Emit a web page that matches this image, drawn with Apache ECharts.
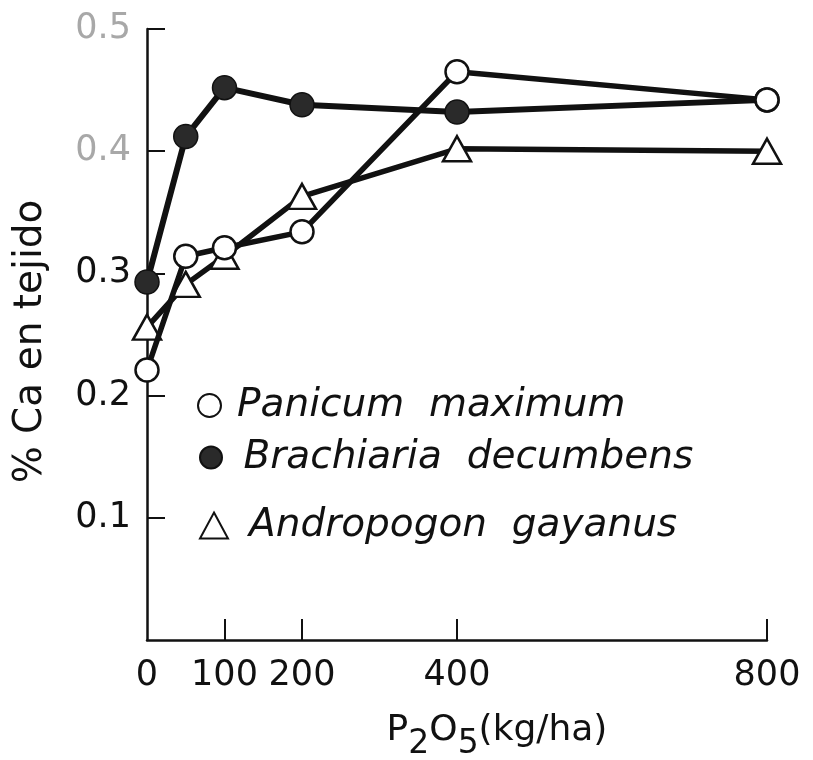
<!DOCTYPE html>
<html>
<head>
<meta charset="utf-8">
<script src="https://cdn.jsdelivr.net/npm/echarts@6/dist/echarts.min.js"></script>
<style>
  html, body { margin: 0; padding: 0; background: #fff; }
  #chart { width: 813px; height: 760px; }
</style>
</head>
<body>
<div id="chart"></div>
<script>
// P2O5 rates (kg/ha) and Ca concentration in tissue (%) for three forage grasses
const xTicks = [0, 100, 200, 400, 800];
const yTicks = [0.1, 0.2, 0.3, 0.4, 0.5];

const panicumX = [0, 50, 100, 200, 400, 800];
const panicumY = [0.221, 0.314, 0.321, 0.334, 0.465, 0.442];

const brachiariaX = [0, 50, 100, 200, 400, 800];
const brachiariaY = [0.293, 0.412, 0.452, 0.438, 0.432, 0.442];

const andropogonX = [0, 50, 100, 200, 400, 800];
const andropogonY = [0.256, 0.291, 0.314, 0.363, 0.402, 0.400];

const names = ['Panicum  maximum', 'Brachiaria  decumbens', 'Andropogon  gayanus'];

const pairs = (xs, ys) => xs.map((x, i) => [x, ys[i]]);

const FONT = 'DejaVu Sans';
const INK = '#111';

const chart = echarts.init(document.getElementById('chart'), null, { renderer: 'canvas' });

const legendText = (padLeft) => ({
  fontFamily: FONT,
  fontStyle: 'italic',
  fontSize: 39,
  color: INK,
  padding: [0, 0, 0, padLeft]
});

const legendBase = {
  orient: 'vertical',
  padding: 0,
  itemGap: 0,
  selectedMode: false
};

chart.setOption({
  animation: false,
  backgroundColor: '#fff',
  grid: {
    left: 147, right: 46, top: 29, bottom: 120,
    containLabel: false,
    outerBoundsMode: 'none'
  },
  xAxis: {
    type: 'value',
    min: 0, max: 800, interval: 100,
    splitLine: { show: false },
    axisLine: { lineStyle: { color: INK, width: 2.5 } },
    axisTick: {
      inside: true, length: 21,
      customValues: xTicks.slice(1),
      lineStyle: { color: INK, width: 2 }
    },
    axisLabel: {
      customValues: xTicks,
      margin: 18,
      fontFamily: FONT, fontSize: 35, color: INK
    },
    name: '{m|P}{s|2}{m|O}{s|5}{m|(kg/ha)}',
    nameLocation: 'middle',
    nameGap: 61,
    nameTextStyle: {
      padding: [0, 0, 0, 80],
      rich: {
        m: { fontFamily: FONT, fontSize: 36, color: INK, lineHeight: 60, verticalAlign: 'middle' },
        s: { fontFamily: FONT, fontSize: 33, color: INK, lineHeight: 26, verticalAlign: 'bottom' }
      }
    }
  },
  yAxis: {
    type: 'value',
    min: 0, max: 0.5, interval: 0.1,
    splitLine: { show: false },
    axisLine: { lineStyle: { color: INK, width: 2.5 } },
    axisTick: {
      inside: true,
      length: 18,
      customValues: yTicks,
      lineStyle: { color: INK, width: 2 }
    },
    axisLabel: {
      customValues: yTicks,
      margin: 16,
      fontFamily: FONT, fontSize: 35,
      formatter: v => v.toFixed(1),
      color: v => (v >= 0.35 ? '#a8a8a8' : INK)
    },
    name: '% Ca en tejido',
    nameLocation: 'middle',
    nameRotate: 90,
    nameGap: 97,
    nameTextStyle: { fontFamily: FONT, fontSize: 39, color: INK, padding: [0, 14, 0, 0] }
  },
  legend: [
    Object.assign({}, legendBase, {
      left: 197, top: 386,
      itemWidth: 23, itemHeight: 23,
      data: [{ name: names[0], icon: 'circle' }],
      textStyle: legendText(11)
    }),
    Object.assign({}, legendBase, {
      left: 199, top: 438,
      itemWidth: 23, itemHeight: 22,
      data: [{ name: names[1], icon: 'circle' }],
      textStyle: legendText(16)
    }),
    Object.assign({}, legendBase, {
      left: 199, top: 506,
      itemWidth: 28, itemHeight: 26,
      data: [{ name: names[2], icon: 'triangle' }],
      textStyle: legendText(16)
    })
  ],
  series: [
    {
      name: names[2],
      type: 'line',
      z: 2,
      data: pairs(andropogonX, andropogonY),
      symbol: 'triangle',
      symbolSize: [28, 25],
      lineStyle: { color: INK, width: 5.5 },
      itemStyle: { color: '#fff', borderColor: INK, borderWidth: 2.5 },
      emphasis: { disabled: true }
    },
    {
      name: names[1],
      type: 'line',
      z: 3,
      data: pairs(brachiariaX, brachiariaY),
      symbol: 'circle',
      symbolSize: 24,
      lineStyle: { color: INK, width: 6 },
      itemStyle: { color: '#2a2a2a', borderColor: INK, borderWidth: 1.5 },
      emphasis: { disabled: true }
    },
    {
      name: names[0],
      type: 'line',
      z: 4,
      data: pairs(panicumX, panicumY),
      symbol: 'circle',
      symbolSize: 23,
      lineStyle: { color: INK, width: 5.5 },
      itemStyle: { color: '#fff', borderColor: INK, borderWidth: 2.5 },
      emphasis: { disabled: true }
    }
  ]
});
</script>
</body>
</html>
